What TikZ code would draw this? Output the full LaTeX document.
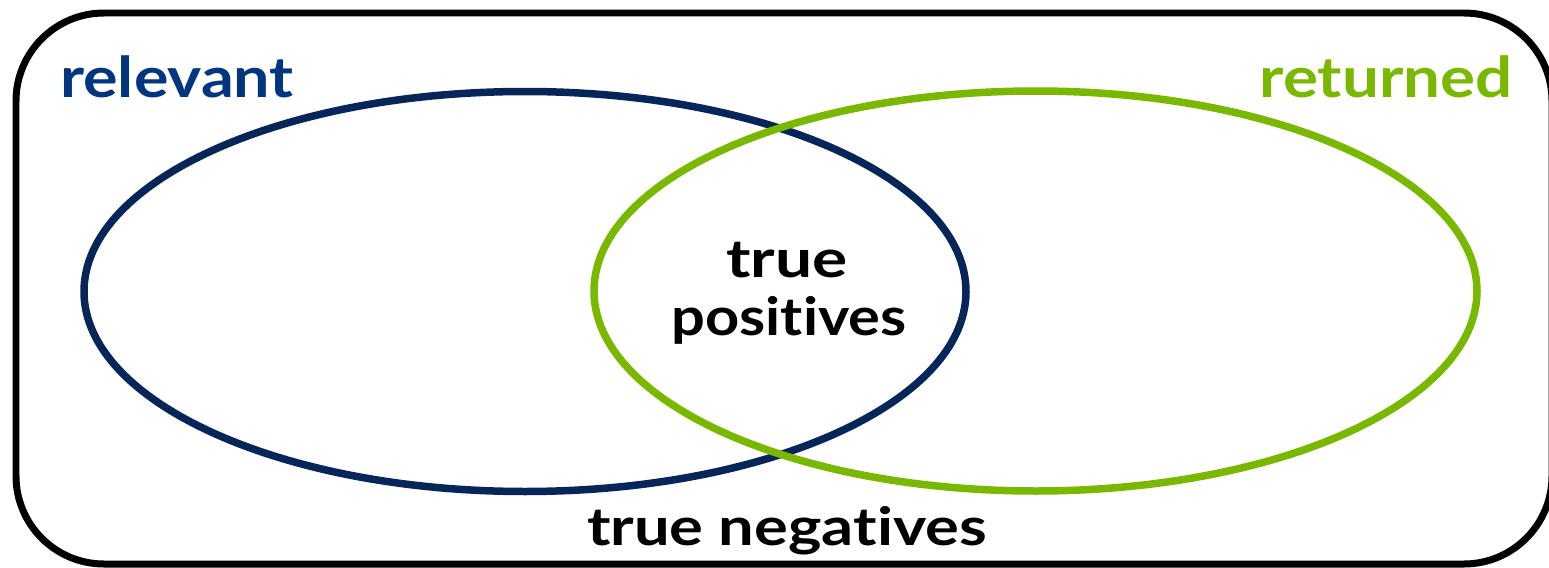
\documentclass[tikz,border=0pt]{standalone}
\usepackage{fontspec}
\setmainfont{Lato}[Ligatures=NoCommon]
\definecolor{navyline}{HTML}{06265A}
\definecolor{navytext}{HTML}{003580}
\definecolor{limegreen}{HTML}{7AB800}
\begin{document}
\begin{tikzpicture}[x=0.02cm,y=-0.02cm,
  frame/.style={line width=0.14cm, black},
  setline/.style={line width=0.15cm},
  label/.style={font=\fontsize{32}{36}\selectfont\bfseries, anchor=base, inner sep=0pt},
  body/.style={font=\fontsize{30}{34}\selectfont\bfseries, anchor=base, inner sep=0pt}]
\useasboundingbox (0,0) rectangle (1549,568);
\draw[frame, rounded corners=1.76cm] (16,13) rectangle (1552,564);
\draw[setline, navyline] (525,291.5) ellipse [x radius=441, y radius=200];
\draw[setline, limegreen] (1035.5,291) ellipse [x radius=441.5, y radius=200];
\node[label, text=navytext] (relevant) at (177,97) {\scalebox{1.15}[1]{relevant}};
\node[label, text=limegreen] (returned) at (1386,97) {\scalebox{1.165}[1]{returned}};
\node[body] (tp1) at (787,277) {\scalebox{1.25}[1]{true}};
\node[body] (tp2) at (789,335) {\scalebox{1.13}[1]{positives}};
\node[body] (tn) at (787,545) {\scalebox{1.2}[1]{true negatives}};
\end{tikzpicture}
\end{document}
